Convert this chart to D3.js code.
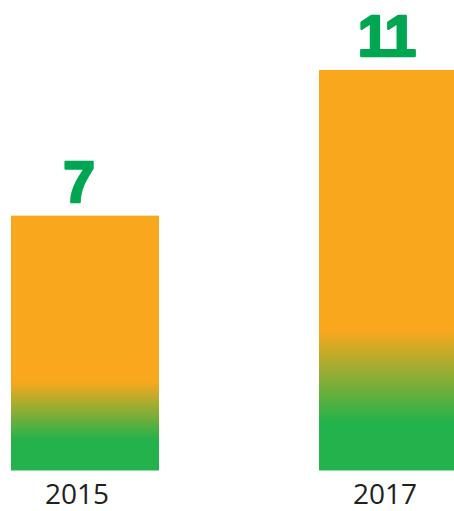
<!doctype html>
<html lang="en">
<head>
<meta charset="utf-8">
<title>2015 vs 2017</title>
<style>
  body { margin: 0; background: #fff; }
  svg { display: block; }
</style>
</head>
<body>
<script src="https://cdn.jsdelivr.net/npm/d3@7"></script>
<script>

var years = ["2015", "2017"];
var values = [7, 11];

var width = 454, height = 511;

var svg = d3.select("body").append("svg")
	.attr("width", width)
	.attr("height", height);

// bars: 148 wide, second one runs off the right edge
var x = d3.scaleBand()
	.domain(years)
	.range([11, 467])
	.paddingInner(160 / 308)
	.paddingOuter(0);

var y = d3.scaleLinear()
	.domain([0, 11])
	.range([470.5, 70]);

// orange on top fading to green at the base
var grad = svg.append("defs").append("linearGradient")
	.attr("id", "barfade")
	.attr("x1", 0).attr("y1", 0)
	.attr("x2", 0).attr("y2", 1);
grad.append("stop").attr("offset", "0.65").attr("stop-color", "#f9a81e");
grad.append("stop").attr("offset", "0.88").attr("stop-color", "#23b24b");

var data = years.map(function (d, i) { return { year: d, value: values[i] }; });

svg.selectAll(".bar")
	.data(data)
	.join("rect")
	.classed("bar", true)
	.attr("x", function (d) { return x(d.year); })
	.attr("width", x.bandwidth())
	.attr("y", function (d) { return y(d.value); })
	.attr("height", function (d) { return y(0) - y(d.value); })
	.attr("fill", "url(#barfade)");

// big value labels
svg.selectAll(".val")
	.data(data)
	.join("text")
	.classed("val", true)
	.attr("x", function (d) { return x(d.year) + x.bandwidth() / 2 - 7; })
	.attr("y", function (d) { return y(d.value) - 14; })
	.attr("text-anchor", "middle")
	.attr("font-family", "'Liberation Sans', Arial, sans-serif")
	.attr("font-weight", "bold")
	.attr("font-size", "57px")
	.attr("letter-spacing", "-2px")
	.attr("fill", "#00a651")
	.attr("stroke", "#00a651")
	.attr("stroke-width", 2.5)
	.attr("stroke-linejoin", "round")
	.text(function (d) { return d.value; });

// year labels under the bars
svg.selectAll(".yr")
	.data(data)
	.join("text")
	.classed("yr", true)
	.attr("x", function (d) { return x(d.year) + x.bandwidth() / 2 - 8; })
	.attr("y", 504)
	.attr("text-anchor", "middle")
	.attr("font-family", "'Open Sans', sans-serif")
	.attr("font-size", "28px")
	.attr("fill", "#231f20")
	.text(function (d) { return d.year; });

</script>
</body>
</html>
